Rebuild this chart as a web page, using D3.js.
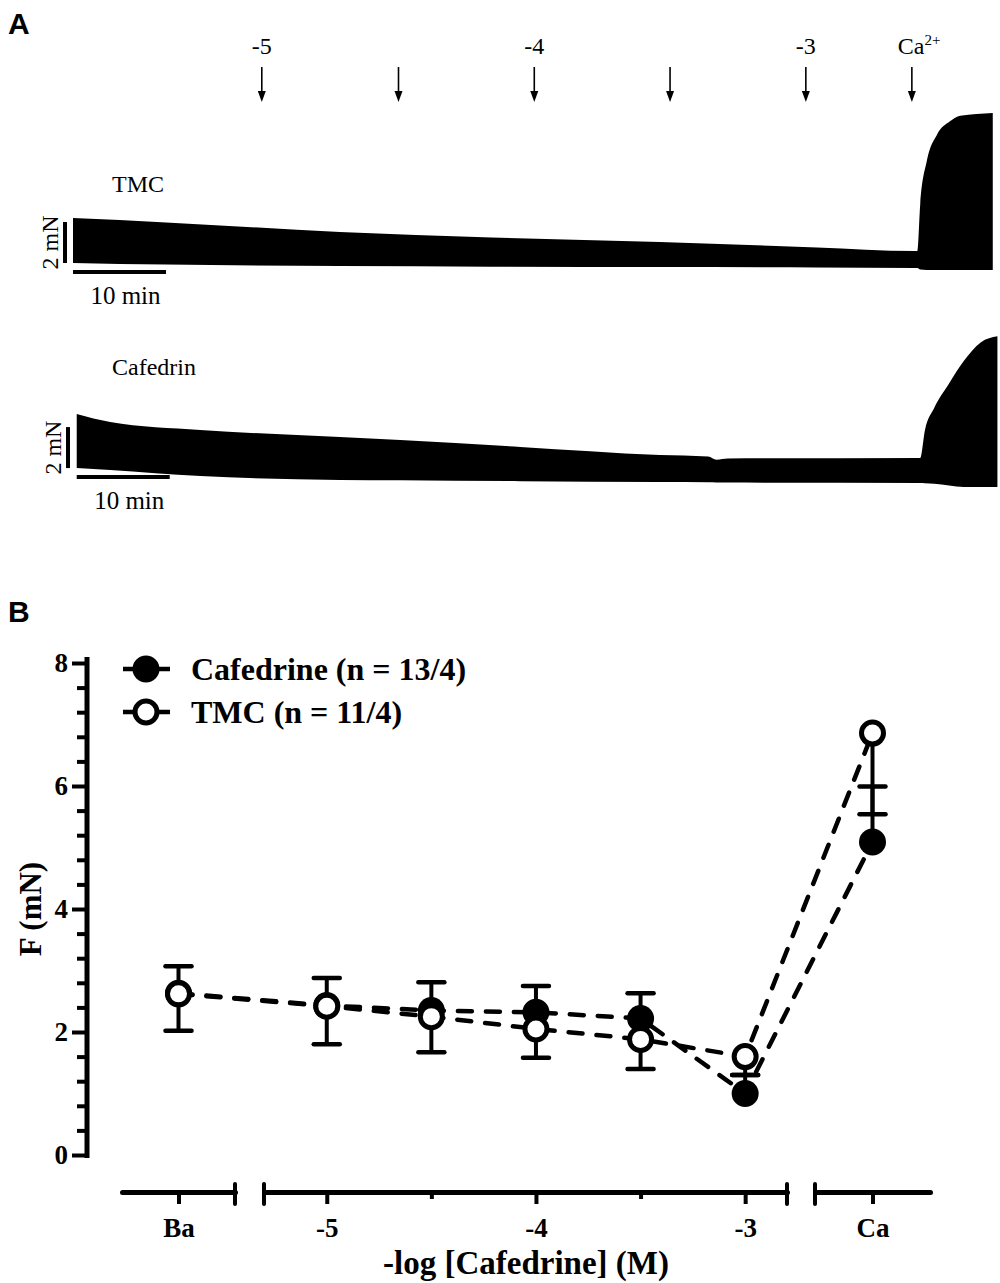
<!DOCTYPE html>
<html>
<head>
<meta charset="utf-8">
<script src="https://cdn.jsdelivr.net/npm/d3@7"></script>
<style>
  body { margin: 0; background: #fff; }
  svg { display: block; }
</style>
</head>
<body>
<div id="chart"></div>
<script>
// ---- panel A: force traces (mN above trace floor, time in min) ----
const arrowTimes = [20.3, 35, 49.6, 64.2, 78.8, 90.2];
const arrowLabels = ['-5', '', '-4', '', '-3', 'Ca'];

const tmcTime   = [0, 10, 28.7, 45, 63.1, 80, 90.5, 90.8, 91.1, 91.8, 92.9, 94.3, 95.4, 98.9];
const tmcTop    = [2.63, 2.42, 1.95, 1.68, 1.46, 1.2, 1.02, 1.02, 3.3, 5.4, 6.7, 7.35, 7.62, 7.76];
const tmcBottom = [0.44, 0.36, 0.29, 0.26, 0.24, 0.22, 0.2, 0.2, 0.12, 0.1, 0.1, 0.1, 0.1, 0.1];

const cafTime   = [0.4, 4.0, 13.7, 28.7, 35.2, 48.1, 63.1, 68.3, 69.2, 70.4, 91.1, 91.6, 92.6, 94.2, 95.8, 97.6, 99.4];
const cafTop    = [3.71, 3.32, 2.93, 2.59, 2.44, 2.1, 1.71, 1.64, 1.48, 1.54, 1.56, 2.9, 4.0, 5.2, 6.3, 7.2, 7.5];
const cafBottom = [1.07, 0.98, 0.68, 0.49, 0.47, 0.43, 0.39, 0.38, 0.37, 0.36, 0.34, 0.33, 0.3, 0.22, 0.15, 0.15, 0.15];

// ---- panel B: mean +/- SEM ----
const doses = ['Ba', -5, -4.5, -4, -3.5, -3, 'Ca'];
const cafMean = [2.63, 2.43, 2.35, 2.32, 2.22, 1.0, 5.09];
const cafSem  = [0.44, 0.45, 0.46, 0.43, 0.41, 0.3, 0.9];
const tmcMean = [2.62, 2.42, 2.25, 2.05, 1.88, 1.6, 6.86];
const tmcSem  = [0.6, 0.62, 0.58, 0.47, 0.48, 0.3, 1.32];

const yMajor = [0, 2, 4, 6, 8];
const yMinor = [0.4, 0.8, 1.2, 1.6, 2.4, 2.8, 3.2, 3.6, 4.4, 4.8, 5.2, 5.6, 6.4, 6.8, 7.2, 7.6];
const concMajor = [-5, -4, -3];
const concMinor = [-4.5, -3.5];

const serif = '"Liberation Serif", "Times New Roman", serif';
const sans = '"Liberation Sans", Arial, sans-serif';

const svg = d3.select('#chart').append('svg')
  .attr('width', 1000)
  .attr('height', 1283);

// panel letters
svg.append('text').attr('x', 8).attr('y', 34).text('A')
  .style('font-family', sans).style('font-weight', 'bold').style('font-size', '30px');
svg.append('text').attr('x', 8).attr('y', 622).text('B')
  .style('font-family', sans).style('font-weight', 'bold').style('font-size', '30px');

// ================= panel A =================
const xTime = d3.scaleLinear().domain([0, 100]).range([73, 1003]);
const mnPx = 20.5; // px per mN

function drawTrace(times, top, bottom, floorY, label, labelY, barT0, barX) {
  const yF = d3.scaleLinear().domain([0, 1]).range([floorY, floorY - mnPx]);
  const pts = times.map((t, i) => ({ t: t, top: top[i], bot: bottom[i] }));
  const area = d3.area()
    .x(d => xTime(d.t))
    .y0(d => yF(d.bot))
    .y1(d => yF(d.top))
    .curve(d3.curveMonotoneX);
  svg.append('path').datum(pts).attr('d', area).attr('fill', '#000');

  // scale bars: 2 mN vertical, 10 min horizontal
  const startY = yF(bottom[0]);
  svg.append('line')
    .attr('x1', barX).attr('x2', barX)
    .attr('y1', startY).attr('y2', startY - 2 * mnPx)
    .attr('stroke', '#000').attr('stroke-width', 4);
  svg.append('text')
    .attr('transform', `translate(${barX - 7},${startY - mnPx}) rotate(-90)`)
    .attr('text-anchor', 'middle')
    .style('font-family', serif).style('font-size', '24px')
    .text('2 mN');
  const hbY = startY + 9;
  svg.append('line')
    .attr('x1', xTime(barT0)).attr('x2', xTime(barT0 + 10))
    .attr('y1', hbY).attr('y2', hbY)
    .attr('stroke', '#000').attr('stroke-width', 4);
  svg.append('text')
    .attr('x', (xTime(barT0) + xTime(barT0 + 10)) / 2 + 6).attr('y', hbY + 32)
    .attr('text-anchor', 'middle')
    .style('font-family', serif).style('font-size', '25px')
    .text('10 min');
  svg.append('text')
    .attr('x', 112).attr('y', labelY)
    .style('font-family', serif).style('font-size', '24px')
    .text(label);
}

drawTrace(tmcTime, tmcTop, tmcBottom, 272, 'TMC', 192, 0, 65);
drawTrace(cafTime, cafTop, cafBottom, 490, 'Cafedrin', 375, 0.4, 68);

// arrows
const arrows = svg.append('g');
arrowTimes.forEach((t, i) => {
  const x = xTime(t);
  arrows.append('line').attr('x1', x).attr('x2', x).attr('y1', 67).attr('y2', 94)
    .attr('stroke', '#000').attr('stroke-width', 1.6);
  arrows.append('path')
    .attr('d', `M${x - 4},${91} L${x + 4},${91} L${x},${102} Z`)
    .attr('fill', '#000');
  if (arrowLabels[i] === 'Ca') {
    const t1 = arrows.append('text').attr('x', x - 14).attr('y', 54)
      .style('font-family', serif).style('font-size', '24px');
    t1.append('tspan').text('Ca');
    t1.append('tspan').attr('dy', -9).style('font-size', '15px').text('2+');
  } else if (arrowLabels[i]) {
    arrows.append('text').attr('x', x).attr('y', 54).attr('text-anchor', 'middle')
      .style('font-family', serif).style('font-size', '24px')
      .text(arrowLabels[i]);
  }
});

// ================= panel B =================
const y = d3.scaleLinear().domain([0, 8]).range([1155, 663]);
const xBa = d3.scalePoint().domain(['Ba']).range([122, 235]);
const xConc = d3.scaleLinear().domain([-5.3, -2.8]).range([264, 787]);
const xCa = d3.scalePoint().domain(['Ca']).range([815, 930]);
const xPos = d => d === 'Ba' ? xBa(d) : d === 'Ca' ? xCa(d) : xConc(d);

const axisY = 1192;
const bold = sel => sel.selectAll('text')
  .style('font-family', serif).style('font-weight', 'bold').style('font-size', '27px')
  .attr('fill', '#000');

// y axis
const gy = svg.append('g').attr('transform', 'translate(87,0)');
gy.call(d3.axisLeft(y).tickValues(yMajor).tickSize(15).tickSizeOuter(0).tickPadding(4)
  .tickFormat(d => String(d)));
gy.call(bold);
gy.select('.domain').attr('stroke-width', 5).attr('d', `M0,${y(8) - 6}V${y(0) + 3}`);
gy.selectAll('.tick line').attr('stroke-width', 4);
const gyMinor = svg.append('g').attr('transform', 'translate(87,0)');
gyMinor.call(d3.axisLeft(y).tickValues(yMinor).tickSize(10).tickFormat(''));
gyMinor.select('.domain').remove();
gyMinor.selectAll('.tick line').attr('stroke-width', 4);

svg.append('text')
  .attr('transform', `translate(41,${y(4)}) rotate(-90)`)
  .attr('text-anchor', 'middle')
  .style('font-family', serif).style('font-weight', 'bold').style('font-size', '31px')
  .text('F (mN)');

// x axis segments
function segAxis(scale, vals, size, labels) {
  const g = svg.append('g').attr('transform', `translate(0,${axisY})`);
  g.call(d3.axisBottom(scale).tickValues(vals).tickSize(size).tickSizeOuter(0).tickPadding(14)
    .tickFormat(labels ? (d => String(d)) : ''));
  g.call(bold);
  g.select('.domain').attr('stroke-width', 5).attr('stroke-linecap', 'round');
  g.selectAll('.tick line').attr('stroke-width', 4);
  return g;
}
segAxis(xBa, ['Ba'], 12, true);
segAxis(xConc, concMajor, 12, true);
segAxis(xConc, concMinor, 7, false).select('.domain').remove();
segAxis(xCa, ['Ca'], 12, true);

// segment end caps at the axis breaks
[xBa.range()[1], xConc.range()[0], xConc.range()[1], xCa.range()[0]].forEach(x => {
  svg.append('line').attr('x1', x).attr('x2', x).attr('y1', axisY - 8).attr('y2', axisY + 12)
    .attr('stroke', '#000').attr('stroke-width', 4).attr('stroke-linecap', 'round');
});

svg.append('text')
  .attr('x', (xBa.range()[0] + xCa.range()[1]) / 2).attr('y', 1274)
  .attr('text-anchor', 'middle')
  .style('font-family', serif).style('font-weight', 'bold').style('font-size', '33px')
  .text('-log [Cafedrine] (M)');

// series
const series = [
  { name: 'Cafedrine (n = 13/4)', mean: cafMean, sem: cafSem, dir: 1, open: false },
  { name: 'TMC (n = 11/4)', mean: tmcMean, sem: tmcSem, dir: -1, open: true }
];
const line = d3.line().x(d => xPos(d.dose)).y(d => y(d.m));
series.forEach(s => {
  s.pts = doses.map((d, i) => ({ dose: d, m: s.mean[i], e: s.sem[i] }));
});

const plot = svg.append('g');
series.forEach(s => {
  plot.append('path').datum(s.pts).attr('d', line)
    .attr('fill', 'none').attr('stroke', '#000').attr('stroke-width', 4.5)
    .attr('stroke-dasharray', '14,14').attr('stroke-linecap', 'round');
});
series.forEach(s => {
  const eb = plot.append('g');
  eb.selectAll('line.bar').data(s.pts).enter().append('line')
    .attr('x1', d => xPos(d.dose)).attr('x2', d => xPos(d.dose))
    .attr('y1', d => y(d.m)).attr('y2', d => y(d.m + s.dir * d.e))
    .attr('stroke', '#000').attr('stroke-width', 4);
  eb.selectAll('line.cap').data(s.pts).enter().append('line')
    .attr('x1', d => xPos(d.dose) - 13).attr('x2', d => xPos(d.dose) + 13)
    .attr('y1', d => y(d.m + s.dir * d.e)).attr('y2', d => y(d.m + s.dir * d.e))
    .attr('stroke', '#000').attr('stroke-width', 4.5).attr('stroke-linecap', 'round');
});
function marker(g, x, yy, open) {
  if (open) {
    g.append('circle').attr('cx', x).attr('cy', yy).attr('r', 11)
      .attr('fill', '#fff').attr('stroke', '#000').attr('stroke-width', 5);
  } else {
    g.append('circle').attr('cx', x).attr('cy', yy).attr('r', 13.5).attr('fill', '#000');
  }
}
series.forEach(s => {
  s.pts.forEach(d => marker(plot, xPos(d.dose), y(d.m), s.open));
});

// legend
series.forEach((s, i) => {
  const ly = 669 + i * 43;
  svg.append('line').attr('x1', 123).attr('x2', 170).attr('y1', ly).attr('y2', ly)
    .attr('stroke', '#000').attr('stroke-width', 4.5);
  marker(svg, 146, ly, s.open);
  svg.append('text').attr('x', 191).attr('y', ly + 11)
    .style('font-family', serif).style('font-weight', 'bold').style('font-size', '32px')
    .text(s.name);
});
</script>
</body>
</html>
